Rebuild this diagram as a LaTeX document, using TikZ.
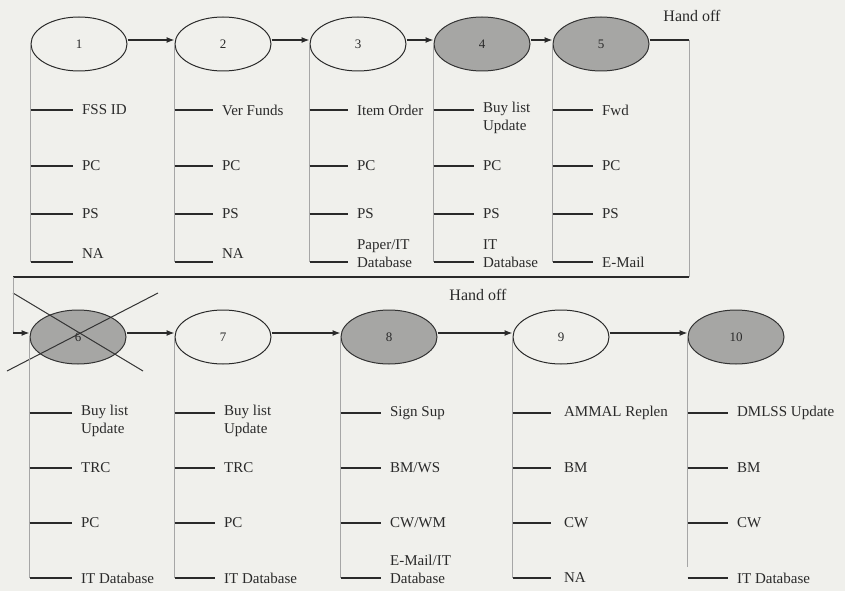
\documentclass[tikz,border=0pt]{standalone}
\usepackage{fontspec}
\setmainfont{Liberation Serif}
\usetikzlibrary{arrows.meta,shapes.geometric}
\definecolor{bg}{HTML}{F0F0EC}
\definecolor{shade}{HTML}{A6A6A4}
\definecolor{ink}{HTML}{2A2A2A}
\tikzset{
  stage/.style={ellipse,draw=ink,line width=1pt,minimum width=96pt,minimum height=54pt,inner sep=0pt,font=\fontsize{13}{15}\selectfont,text=ink},
  lit/.style={stage,fill=bg},
  dark/.style={stage,fill=shade,draw=black!80},
  flow/.style={draw=ink,line width=1.2pt,-{Latex[length=8pt,width=6pt]}},
  vline/.style={draw=black!35,line width=0.7pt},
  tick/.style={draw=ink,line width=1.3pt},
  lab/.style={anchor=west,inner sep=0pt,xshift=9pt,font=\fontsize{15}{18}\selectfont,text=ink,align=left},
  labtop/.style={anchor=north west,inner sep=0pt,xshift=9pt,yshift=9pt,font=\fontsize{15}{18}\selectfont,text=ink,align=left},
  labbot/.style={anchor=south west,inner sep=0pt,xshift=9pt,yshift=-6pt,font=\fontsize{15}{18}\selectfont,text=ink,align=left},
  handoff/.style={font=\fontsize{16}{18}\selectfont,text=ink,inner sep=0pt},
  xline/.style={draw=black!80,line width=1pt}
}
\begin{document}
\begin{tikzpicture}[x=1pt,y=-1pt]
\fill[bg] (0,0) rectangle (845,591);
\useasboundingbox (0,0) rectangle (845,591);
% top row
\node[lit]  (e1) at (79,44) {1};
\node[lit]  (e2) at (223,44) {2};
\node[lit]  (e3) at (358,44) {3};
\node[dark] (e4) at (482,44) {4};
\node[dark] (e5) at (601,44) {5};
\draw[flow] ([yshift=4pt]e1.east) -- ([yshift=4pt]e2.west);
\draw[flow] ([yshift=4pt]e2.east) -- ([yshift=4pt]e3.west);
\draw[flow] ([yshift=4pt]e3.east) -- ([yshift=4pt]e4.west);
\draw[flow] ([yshift=4pt]e4.east) -- ([yshift=4pt]e5.west);
% bottom row
\node[dark] (e6) at (78,337) {6};
\node[lit]  (e7) at (223,337) {7};
\node[dark] (e8) at (389,337) {8};
\node[lit]  (e9) at (561,337) {9};
\node[dark] (e10) at (736,337) {10};
\draw[flow] ([yshift=4pt]e6.east) -- ([yshift=4pt]e7.west);
\draw[flow] ([yshift=4pt]e7.east) -- ([yshift=4pt]e8.west);
\draw[flow] ([yshift=4pt]e8.east) -- ([yshift=4pt]e9.west);
\draw[flow] ([yshift=4pt]e9.east) -- ([yshift=4pt]e10.west);
% cross on 6
\coordinate (xa1) at (13,293);
\coordinate (xa2) at (143,371);
\coordinate (xb1) at (7,371);
\coordinate (xb2) at (158,293);
\draw[xline] (xa1) -- (xa2);
\draw[xline] (xb1) -- (xb2);
% hand off connector
\coordinate (h1) at (689,40);
\coordinate (h2) at (689,277);
\coordinate (h3) at (13,277);
\coordinate (h4) at (13,333);
\draw[draw=ink,line width=1.2pt] ([yshift=4pt]e5.east) -- (h1);
\draw[vline] (h1) -- (h2);
\draw[draw=ink,line width=1.3pt] (h2) -- (h3);
\draw[vline] (h3) -- (h4);
\draw[flow] (h4) -- ([yshift=4pt]e6.west);
\node[handoff] (ho1) at (692,16) {Hand off};
\node[handoff] (ho2) at (478,295) {Hand off};
% top columns
\foreach \e/\bot in {e1/262,e2/262,e3/262,e4/262,e5/262}{
  \draw[vline] (\e.west) -- (\e.west |- 0,\bot);
}
% col 1
\draw[tick] (e1.west |- 0,110) -- ++(42,0) node[lab] (t11) {FSS ID};
\draw[tick] (e1.west |- 0,166) -- ++(42,0) node[lab] (t12) {PC};
\draw[tick] (e1.west |- 0,214) -- ++(42,0) node[lab] (t13) {PS};
\draw[tick] (e1.west |- 0,262) -- ++(42,0) node[lab,yshift=8pt] (t14) {NA};
% col 2
\draw[tick] (e2.west |- 0,110) -- ++(38,0) node[lab] (t21) {Ver Funds};
\draw[tick] (e2.west |- 0,166) -- ++(38,0) node[lab] (t22) {PC};
\draw[tick] (e2.west |- 0,214) -- ++(38,0) node[lab] (t23) {PS};
\draw[tick] (e2.west |- 0,262) -- ++(38,0) node[lab,yshift=8pt] (t24) {NA};
% col 3
\draw[tick] (e3.west |- 0,110) -- ++(38,0) node[lab] (t31) {Item Order};
\draw[tick] (e3.west |- 0,166) -- ++(38,0) node[lab] (t32) {PC};
\draw[tick] (e3.west |- 0,214) -- ++(38,0) node[lab] (t33) {PS};
\draw[tick] (e3.west |- 0,262) -- ++(38,0) node[labbot] (t34) {Paper/IT\\Database};
% col 4
\draw[tick] (e4.west |- 0,110) -- ++(40,0) node[labtop] (t41) {Buy list\\Update};
\draw[tick] (e4.west |- 0,166) -- ++(40,0) node[lab] (t42) {PC};
\draw[tick] (e4.west |- 0,214) -- ++(40,0) node[lab] (t43) {PS};
\draw[tick] (e4.west |- 0,262) -- ++(40,0) node[labbot] (t44) {IT\\Database};
% col 5
\draw[tick] (e5.west |- 0,110) -- ++(40,0) node[lab] (t51) {Fwd};
\draw[tick] (e5.west |- 0,166) -- ++(40,0) node[lab] (t52) {PC};
\draw[tick] (e5.west |- 0,214) -- ++(40,0) node[lab] (t53) {PS};
\draw[tick] (e5.west |- 0,262) -- ++(40,0) node[lab] (t54) {E-Mail};
% bottom columns
\foreach \e/\bot in {e6/578,e7/578,e8/578,e9/578,e10/567}{
  \draw[vline] (\e.west) -- (\e.west |- 0,\bot);
}
% col 6
\draw[tick] (e6.west |- 0,413) -- ++(42,0) node[labtop] (t61) {Buy list\\Update};
\draw[tick] (e6.west |- 0,468) -- ++(42,0) node[lab] (t62) {TRC};
\draw[tick] (e6.west |- 0,523) -- ++(42,0) node[lab] (t63) {PC};
\draw[tick] (e6.west |- 0,578) -- ++(42,0) node[lab] (t64) {IT Database};
% col 7
\draw[tick] (e7.west |- 0,413) -- ++(40,0) node[labtop] (t71) {Buy list\\Update};
\draw[tick] (e7.west |- 0,468) -- ++(40,0) node[lab] (t72) {TRC};
\draw[tick] (e7.west |- 0,523) -- ++(40,0) node[lab] (t73) {PC};
\draw[tick] (e7.west |- 0,578) -- ++(40,0) node[lab] (t74) {IT Database};
% col 8
\draw[tick] (e8.west |- 0,413) -- ++(40,0) node[lab] (t81) {Sign Sup};
\draw[tick] (e8.west |- 0,468) -- ++(40,0) node[lab] (t82) {BM/WS};
\draw[tick] (e8.west |- 0,523) -- ++(40,0) node[lab] (t83) {CW/WM};
\draw[tick] (e8.west |- 0,578) -- ++(40,0) node[labbot] (t84) {E-Mail/IT\\Database};
% col 9
\draw[tick] (e9.west |- 0,413) -- ++(38,0) node[lab,xshift=4pt] (t91) {AMMAL Replen};
\draw[tick] (e9.west |- 0,468) -- ++(38,0) node[lab,xshift=4pt] (t92) {BM};
\draw[tick] (e9.west |- 0,523) -- ++(38,0) node[lab,xshift=4pt] (t93) {CW};
\draw[tick] (e9.west |- 0,578) -- ++(38,0) node[lab,xshift=4pt] (t94) {NA};
% col 10
\draw[tick] (e10.west |- 0,413) -- ++(40,0) node[lab] (t101) {DMLSS Update};
\draw[tick] (e10.west |- 0,468) -- ++(40,0) node[lab] (t102) {BM};
\draw[tick] (e10.west |- 0,523) -- ++(40,0) node[lab] (t103) {CW};
\draw[tick] (e10.west |- 0,578) -- ++(40,0) node[lab] (t104) {IT Database};
\end{tikzpicture}
\end{document}
